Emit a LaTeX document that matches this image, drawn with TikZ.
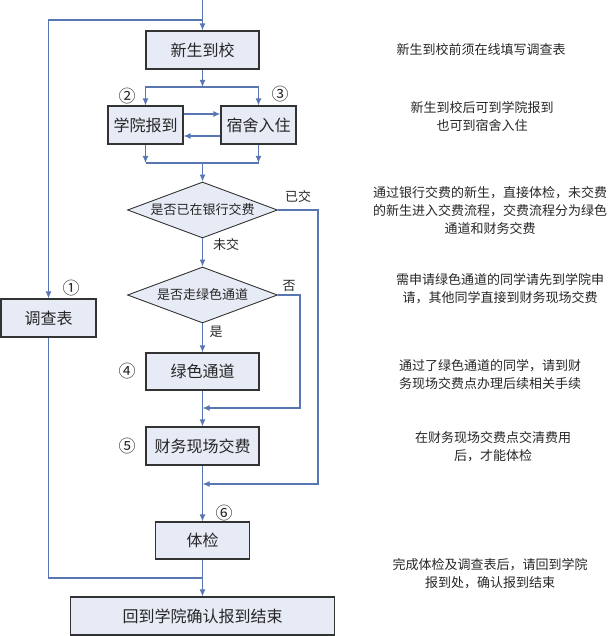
\documentclass[tikz,border=0pt]{standalone}
\usepackage{fontspec}
\setmainfont{Noto Sans CJK SC}
\usetikzlibrary{shapes.geometric,arrows.meta,calc}
\definecolor{flowblue}{RGB}{88,118,178}
\definecolor{boxfill}{RGB}{231,235,246}
\tikzset{
  stepbox/.style={draw=black!80,line width=1.1pt,fill=boxfill,inner sep=0pt,
                  font=\fontsize{16}{18}\selectfont,text=black!85},
  ask/.style={diamond,draw=black!80,line width=0.9pt,fill=boxfill,aspect=2.7,inner sep=0pt,
              minimum width=150,minimum height=56,font=\fontsize{13}{15}\selectfont,text=black!85},
  flow/.style={draw=flowblue,line width=1.2pt,-{Latex[length=7pt,width=6pt]}},
  link/.style={draw=flowblue,line width=1.2pt},
  note/.style={align=center,font=\fontsize{13}{18}\selectfont,text=black!85},
  tag/.style={font=\fontsize{13}{15}\selectfont,text=black!85},
  num/.style={font=\fontsize{17}{17}\selectfont,text=black!85}
}

\begin{document}
\begin{tikzpicture}[x=1pt,y=-1pt]
    \useasboundingbox (0,0) rectangle (612,636);
    \node[stepbox,minimum width=113,minimum height=38] (xinsheng) at (202.5,50)  {新生到校};
    \node[stepbox,minimum width=75, minimum height=38] (xueyuan)  at (145.5,125) {学院报到};
    \node[stepbox,minimum width=75, minimum height=38] (sushe)    at (258.5,125) {宿舍入住};
    \node[ask] (yinhang) at (202.5,210) {是否已在银行交费};
    \node[ask] (lvse)    at (202.5,295) {是否走绿色通道};
    \node[stepbox,minimum width=113,minimum height=37] (lvtd)    at (202.5,371.5) {绿色通道};
    \node[stepbox,minimum width=113,minimum height=38] (caiwu)   at (202.5,446)   {财务现场交费};
    \node[stepbox,minimum width=94, minimum height=37] (tijian)  at (202.5,540.5) {体检};
    \node[stepbox,minimum width=264,minimum height=38] (jieshu)  at (202.5,616)   {回到学院确认报到结束};
    \node[stepbox,minimum width=95, minimum height=38] (diaocha) at (48.5,318)    {调查表};

    \coordinate (start) at (202.5,0);
    \coordinate (fork)  at (202.5,20);
    \coordinate (split) at (202.5,87);
    \coordinate (merge) at (202.5,163);
    \coordinate (paid)  at (318,484);
    \coordinate (join2) at (202.5,484);
    \coordinate (skip)  at (300,408);
    \coordinate (join1) at (202.5,408);
    \coordinate (back)  at (202.5,578);

    \draw[flow] (start) -- (xinsheng);
    \draw[flow] (fork) -| (diaocha);
    \draw[flow] (xinsheng) -- (split);
    \draw[flow] (split) -| (xueyuan);
    \draw[flow] (split) -| (sushe);
    \draw[flow] ($(xueyuan.east)+(0,-11)$) -- ($(sushe.west)+(0,-11)$);
    \draw[flow] ($(sushe.west)+(0,11)$) -- ($(xueyuan.east)+(0,11)$);
    \draw[flow] (xueyuan) -- (xueyuan |- merge);
    \draw[flow] (sushe) -- (sushe |- merge);
    \draw[link] (xueyuan |- merge) -- (sushe |- merge);
    \draw[flow] (merge) -- (yinhang);
    \draw[flow] (yinhang.east) -| (paid) -- (join2);
    \draw[flow] (yinhang) -- (lvse);
    \draw[flow] (lvse.east) -| (skip) -- (join1);
    \draw[flow] (lvse) -- (lvtd);
    \draw[flow] (lvtd) -- (caiwu);
    \draw[flow] (caiwu) -- (tijian);
    \draw[flow] (tijian) -- (jieshu);
    \draw[link] (diaocha) |- (back);

    \node[tag] (yijiao) at (298,197) {已交};
    \node[tag] (weijiao) at (226,245) {未交};
    \node[tag] (fou) at (289,286) {否};
    \node[tag] (shi) at (216,332) {是};

    \node[num] (n1) at (71,288)  {①};
    \node[num] (n2) at (127,96)  {②};
    \node[num] (n3) at (280,94)  {③};
    \node[num] (n4) at (127,371) {④};
    \node[num] (n5) at (127,446) {⑤};
    \node[num] (n6) at (224,513) {⑥};

    \node[note] (tip1) at (481,50)    {新生到校前须在线填写调查表};
    \node[note] (tip2) at (482,116.5) {新生到校后可到学院报到\\也可到宿舍入住};
    \node[note] (tip3) at (490,211)   {通过银行交费的新生，直接体检，未交费\\的新生进入交费流程，交费流程分为绿色\\通道和财务交费};
    \node[note] (tip4) at (500,288.5) {需申请绿色通道的同学请先到学院申\\请，其他同学直接到财务现场交费};
    \node[note] (tip5) at (490,374.5) {通过了绿色通道的同学，请到财\\务现场交费点办理后续相关手续};
    \node[note] (tip6) at (493,446.5) {在财务现场交费点交清费用\\后，才能体检};
    \node[note] (tip7) at (490,574)   {完成体检及调查表后，请回到学院\\报到处，确认报到结束};
\end{tikzpicture}
\end{document}
